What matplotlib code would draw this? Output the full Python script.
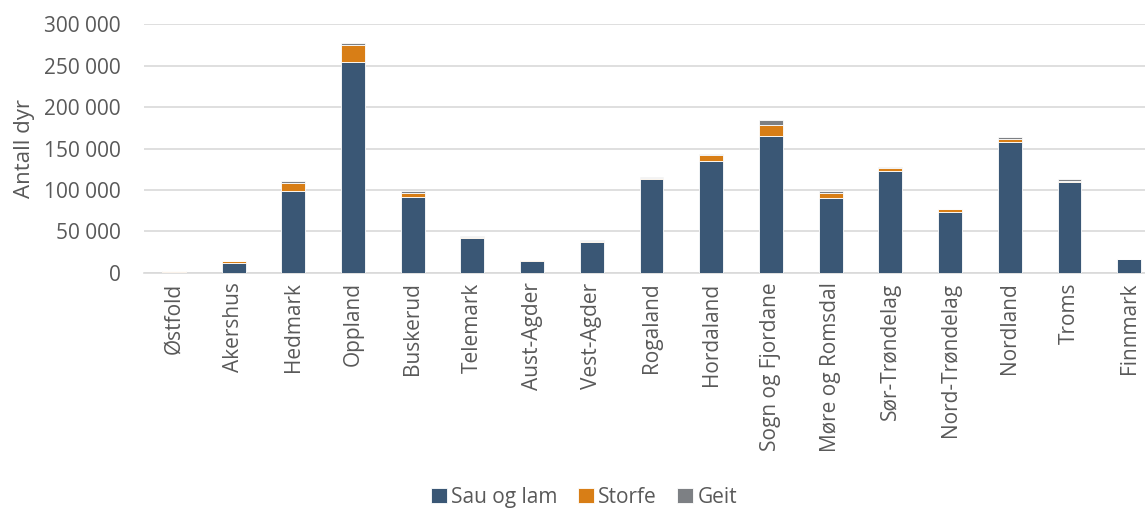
import matplotlib
matplotlib.use("Agg")
import matplotlib.pyplot as plt
import numpy as np

plt.rcParams['font.family'] = ['Open Sans', 'DejaVu Sans']

categories = ["Østfold", "Akershus", "Hedmark", "Oppland", "Buskerud", "Telemark",
              "Aust-Agder", "Vest-Agder", "Rogaland", "Hordaland", "Sogn og Fjordane",
              "Møre og Romsdal", "Sør-Trøndelag", "Nord-Trøndelag", "Nordland", "Troms",
              "Finnmark"]
sau = [1000, 12000, 99000, 255000, 91400, 42300, 14000, 37400, 113000, 134900,
       165500, 90600, 122400, 73700, 158200, 109900, 16300]
storfe = [800, 2000, 9700, 20500, 5200, 800, 800, 1400, 1200, 6800,
          13300, 5200, 4400, 2800, 3200, 800, 100]
geit = [200, 300, 2000, 2000, 2000, 1200, 400, 600, 1200, 1200,
        6000, 2800, 800, 800, 2400, 2400, 200]
series_names = ["Sau og lam", "Storfe", "Geit"]
yticks = [0, 50000, 100000, 150000, 200000, 250000, 300000]

colors = ["#3A5775", "#D87E16", "#7D8084"]
text_color = "#595959"

W, H = 1145, 511
fig = plt.figure(figsize=(W / 100, H / 100), dpi=100)
ax = fig.add_axes([144 / W, 1 - 272.7 / H, (1159 - 144) / W, (272.7 - 24.3) / H])

x = np.arange(len(categories))
sau_a = np.array(sau)
st_a = np.array(storfe)
ge_a = np.array(geit)
bw = 0.4
ax.bar(x, sau_a, width=bw, color=colors[0], edgecolor="white", linewidth=0.6, label=series_names[0], zorder=3)
ax.bar(x, st_a, width=bw, bottom=sau_a, color=colors[1], edgecolor="white", linewidth=0.6, label=series_names[1], zorder=3)
ax.bar(x, ge_a, width=bw, bottom=sau_a + st_a, color=colors[2], edgecolor="white", linewidth=0.6, label=series_names[2], zorder=3)

ax.set_xlim(-0.5, len(categories) - 0.5)
ax.set_ylim(0, 300000)
ax.set_yticks(yticks)
ax.set_yticklabels([f"{v:,}".replace(",", " ") for v in yticks])
ax.set_xticks(x)
ax.set_xticklabels(categories, rotation=90)
ax.tick_params(axis="both", length=0, colors=text_color, labelsize=15)
ax.tick_params(axis="y", pad=17)
ax.tick_params(axis="x", pad=7)
ax.grid(axis="y", color="#D9D9D9", linewidth=1.2, zorder=0)
for s in ["top", "right", "left"]:
    ax.spines[s].set_visible(False)
ax.spines["bottom"].set_color("#D9D9D9")
ax.spines["bottom"].set_linewidth(1.2)
ax.set_ylabel("Antall dyr", color=text_color, fontsize=16, labelpad=6)

handles, labels = ax.get_legend_handles_labels()
fig.legend(handles, labels, loc="center", bbox_to_anchor=(584 / W, 1 - 497 / H), ncol=3,
           frameon=False, fontsize=15, handlelength=0.75, handleheight=0.75,
           handletextpad=0.2, columnspacing=1.0, labelcolor=text_color)

fig.savefig("out.png", dpi=100)
